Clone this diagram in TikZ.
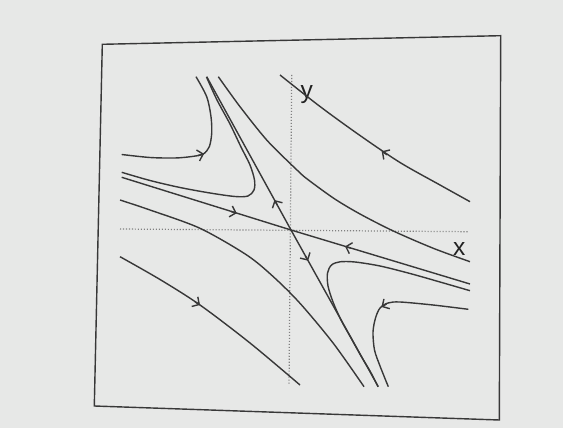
\documentclass[tikz,border=0pt]{standalone}
\usepackage{fontspec}
\setmainfont{Liberation Sans}
\usepackage{tikz}
\usetikzlibrary{arrows.meta}
\definecolor{mInk}{HTML}{383838}
\definecolor{mPaper}{HTML}{E7E8E7}
\definecolor{mDots}{HTML}{808080}

\begin{document}
\begin{tikzpicture}[
  x=0.02cm, y=-0.02cm,
  orbit/.style={draw=mInk, line width=0.8pt, line join=round},
  flowhead/.style={draw=mInk, line width=0.8pt, -{Straight Barb[length=3pt,width=6.5pt]}},
  axisline/.style={draw=mDots, line width=0.7pt, dash pattern=on 0.6pt off 1.1pt},
  frameline/.style={draw=mInk, line width=0.8pt},
  lbl/.style={font=\fontsize{14}{16}\selectfont, text=mInk!60!black, inner sep=0pt},
]
  \fill[mPaper] (0,0) rectangle (563,428);
  \draw[frameline] (102.3,44.3) -- (500.7,35.7) -- (499.3,420) -- (94.3,406) -- cycle;

  % axes
  \draw[axisline] (120,229) -- (468.3,231.7);
  \draw[axisline] (291.7,75) -- (289,385);
  \node[lbl] (ylab) at (306.7,95) {y};
  \node[lbl] (xlab) at (459.3,249.5) {x};

  % saddle and its separatrices
  \coordinate (O) at (291,230);
  \coordinate (uTop) at (206.7,76.7);
  \coordinate (uBot) at (378.3,386.7);
  \coordinate (sLeft) at (121.7,177.3);
  \coordinate (sRight) at (470,284);
  \draw[orbit] (uTop) -- (O) -- (uBot);
  \draw[orbit] (sLeft) -- (O) -- (sRight);
  \draw[flowhead] (277.2,205) -- (274.5,200);
  \draw[flowhead] (305.3,255.8) -- (308.1,260.7);
  \draw[flowhead] (231,211.5) -- (236.7,213.2);
  \draw[flowhead] (350.7,248.1) -- (345,246.4);

  % upper left
  \draw[orbit] plot[smooth] coordinates {(121.7,154.5) (150,157.5) (175,158) (192,156.5)
    (203.3,154) (209.3,146.7) (211.7,133.3) (211,116.7) (206.7,96.7) (196,76.7)};
  \draw[flowhead] (198,155.5) -- (204,153.8);
  \draw[orbit] plot[smooth] coordinates {(121.7,172.3) (150,180.5) (180,187.5) (210,193) (235,196.5)
    (248,196) (254,190) (254.5,180) (250,165) (241,147) (230,124) (217,100) (206.5,77)};

  % upper right
  \draw[orbit] plot[smooth] coordinates {(218.3,76.7) (240,106.7) (266.7,140) (291.7,165) (303.3,176)
    (333.3,198) (360,214) (393.3,231) (433.3,248.3) (470,261.7)};
  \draw[orbit] plot[smooth] coordinates {(470,201.7) (440,185) (400,162.5) (360,135.5)
    (320,106.5) (280,75)};
  \draw[flowhead] (387,154.8) -- (381.7,151.3);

  % lower left
  \draw[orbit] plot[smooth] coordinates {(120,200) (150,210) (200,228.3) (246.7,255) (273.3,276.7)
    (300,303.3) (333.3,343.3) (364,386.7)};
  \draw[orbit] plot[smooth] coordinates {(120,256.7) (160,279.5) (200,305) (250,343)
    (300,385)};
  \draw[flowhead] (195,301.8) -- (200,305);

  % lower right
  \draw[orbit] plot[smooth] coordinates {(470,290.7) (440,282) (410,273.5) (380,266) (355,262)
    (340,261.8) (331.5,265) (327.5,273) (328,286) (333,302) (341,320) (351,338) (361,356)
    (370,371) (378,386.7)};
  \draw[orbit] plot[smooth] coordinates {(468.3,309.3) (433,305) (400,302) (388,303)
    (380,308) (375.5,318) (373,332) (374.5,350) (380,366) (388.3,386.7)};
  \draw[flowhead] (386.5,304) -- (381.5,307);
\end{tikzpicture}
\end{document}
